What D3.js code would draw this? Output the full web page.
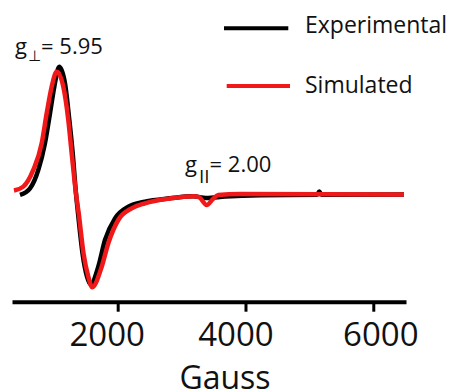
<!DOCTYPE html>
<html lang="en">
<head>
<meta charset="utf-8">
<script src="https://d3js.org/d3.v7.min.js"></script>
<style>
  body { margin: 0; background: #fff; }
  text { font-family: "Open Sans", "Noto Sans", sans-serif; fill: #111; }
</style>
</head>
<body>
<div id="my_dataviz"></div>
<script>

    // EPR spectrum (field in Gauss, signal in arbitrary units)
    var expField  = [471, 628, 757, 862, 941, 1008, 1086, 1175, 1243, 1296, 1347, 1379, 1449, 1520, 1574,
                     1696, 1801, 1958, 2166, 2427, 2818, 3183, 3382, 3679, 4227, 5119, 5155, 5189, 6481];
    var expSignal = [0, 5.2, 19.5, 40.3, 63.7, 84.4, 100, 87.1, 58.5, 32.5, 1.3, -14.3, -45.4, -63.7, -69.8,
                     -55.9, -35.1, -18.2, -9.1, -5.2, -2.6, -1.0, -2.3, -1.2, -0.2, 0.1, 2.7, 0.1, 0.4];

    var simField  = [377, 523, 679, 811, 889, 967, 1045, 1149, 1227, 1280, 1347, 1390, 1465, 1540, 1602,
                     1750, 1853, 2009, 2219, 2427, 2818, 3183, 3272, 3393, 3491, 3574, 3914, 6481];
    var simSignal = [3.5, 6.5, 19.5, 40.3, 63.7, 84.4, 96.1, 84.4, 58.5, 32.5, 1.3, -14.3, -45.4, -63.7, -71.9,
                     -55.9, -37.6, -19.5, -10.4, -6.5, -2.7, -0.9, -1.6, -7.8, -3.1, 0, 0.8, 0.4];

    var xTicks = [2000, 4000, 6000];
    var seriesNames = ["Experimental", "Simulated"];
    var seriesColors = ["#000000", "#f01818"];

    var width = 450, height = 392;

    var svg = d3.select("#my_dataviz")
      .append("svg")
        .attr("width", width)
        .attr("height", height)

    // scales
    var x = d3.scaleLinear()
      .domain([346, 6512])
      .range([12, 406])

    var y = d3.scaleLinear()
      .domain([-83.2, 100])
      .range([301.7, 66.7])

    // X axis
    var labelShift = [-11, -10, 7];
    var xAxis = svg.append("g")
      .attr("transform", "translate(0," + y(-83.2) + ")")
      .call(d3.axisBottom(x).tickValues(xTicks).tickSize(10).tickSizeOuter(0).tickFormat(d3.format("d")))
    xAxis.select(".domain").attr("stroke", "#000").attr("stroke-width", 4)
    xAxis.selectAll(".tick line").attr("stroke", "#000").attr("stroke-width", 3)
    xAxis.selectAll(".tick text")
      .attr("y", 44.3)
      .attr("dy", null)
      .attr("dx", function (d, i) { return labelShift[i]; })
      .attr("fill", "#111")
      .style("font-size", "33px")
      .style("font-family", "'Open Sans', sans-serif")

    svg.append("text")
      .attr("x", 225)
      .attr("y", 388.5)
      .attr("text-anchor", "middle")
      .style("font-size", "32px")
      .text("Gauss")

    // curves
    var line = d3.line()
      .x(function (d) { return x(d[0]); })
      .y(function (d) { return y(d[1]); })
      .curve(d3.curveMonotoneX)

    var series = [
      d3.zip(expField, expSignal),
      d3.zip(simField, simSignal)
    ];

    svg.selectAll(".spectrum")
      .data(series)
      .enter()
      .append("path")
        .attr("class", "spectrum")
        .attr("d", line)
        .attr("fill", "none")
        .attr("stroke", function (d, i) { return seriesColors[i]; })
        .attr("stroke-width", 4.5)
        .attr("stroke-linejoin", "round")

    // annotations
    var gPerp = svg.append("text").attr("x", 15).attr("y", 54.3).style("font-size", "22px")
    gPerp.append("tspan").text("g")
    gPerp.append("tspan").attr("dx", 1).attr("dy", 7).style("font-size", "15px").style("font-family", "'DejaVu Sans', sans-serif").text("\u22A5")
    gPerp.append("tspan").attr("dy", -7).text("= 5.95")

    var gPar = svg.append("text").attr("x", 185).attr("y", 171.7).style("font-size", "22px")
    gPar.append("tspan").text("g")
    gPar.append("tspan").attr("dx", 2).attr("dy", 11).style("font-size", "19px").text("II")
    gPar.append("tspan").attr("dy", -11).text("= 2.00")

    // legend
    var legendLines = [[224, 288.3, 28.3], [226.7, 290, 86]];
    var legendText = [33.3, 93.3];
    seriesNames.forEach(function (name, i) {
      svg.append("line")
        .attr("x1", legendLines[i][0]).attr("x2", legendLines[i][1])
        .attr("y1", legendLines[i][2]).attr("y2", legendLines[i][2])
        .attr("stroke", seriesColors[i])
        .attr("stroke-width", 4)
      svg.append("text")
        .attr("x", 305)
        .attr("y", legendText[i])
        .style("font-size", "23px")
        .text(name)
    })

</script>
</body>
</html>
